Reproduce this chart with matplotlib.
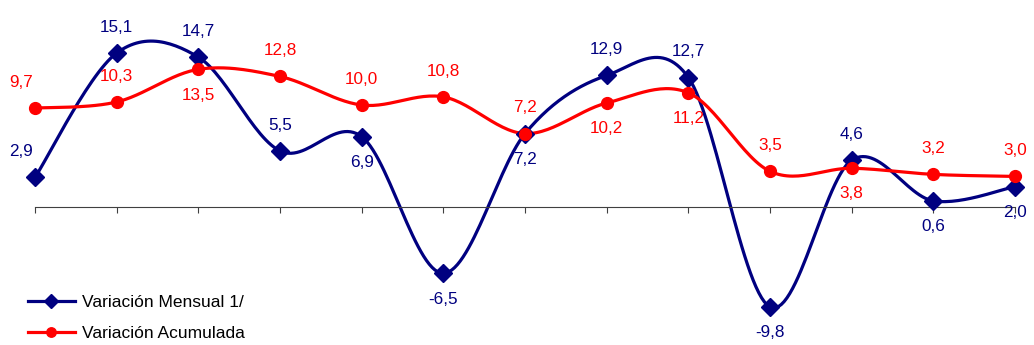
import numpy as np
from matplotlib import pyplot as plt

plt.rcParams['font.family'] = ['Liberation Sans', 'DejaVu Sans']

# monthly and cumulative variation, 13 periods
mensual = [2.9, 15.1, 14.7, 5.5, 6.9, -6.5, 7.2, 12.9, 12.7, -9.8, 4.6, 0.6, 2.0]
acumulada = [9.7, 10.3, 13.5, 12.8, 10.0, 10.8, 7.2, 10.2, 11.2, 3.5, 3.8, 3.2, 3.0]
names = ['Variación Mensual 1/', 'Variación Acumulada']

# label placement: 1 above, -1 below
pos_mensual = [1, 1, 1, 1, -1, -1, -1, 1, 1, -1, 1, -1, -1]
pos_acumulada = [1, 1, -1, 1, 1, 1, 1, -1, -1, 1, -1, 1, 1]

NAVY = '#000080'
RED = '#ff0000'


def smooth(ys, n=30):
    # Excel-like smoothing: bezier with catmull-rom control points
    xs = np.arange(len(ys), dtype=float)
    p = np.column_stack([xs, np.asarray(ys, float)])
    out = []
    for i in range(len(p) - 1):
        p0 = p[max(i - 1, 0)]
        p1 = p[i]
        p2 = p[i + 1]
        p3 = p[min(i + 2, len(p) - 1)]
        c1 = p1 + (p2 - p0) / 6
        c2 = p2 - (p3 - p1) / 6
        t = np.linspace(0, 1, n)[:, None]
        seg = ((1 - t) ** 3) * p1 + 3 * ((1 - t) ** 2) * t * c1 \
            + 3 * (1 - t) * t ** 2 * c2 + t ** 3 * p2
        out.append(seg if i == 0 else seg[1:])
    seg = np.vstack(out)
    return seg[:, 0], seg[:, 1]


fig = plt.figure(figsize=(10.34, 3.45), dpi=100)
ax = fig.add_axes([0, 0, 1, 1])

x = np.arange(len(mensual))
for vals, color, marker, ms, name, poss in [
        (mensual, NAVY, 'D', 9, names[0], pos_mensual),
        (acumulada, RED, 'o', 8.5, names[1], pos_acumulada)]:
    sx, sy = smooth(vals)
    ax.plot(sx, sy, color=color, lw=2.3, zorder=2)
    ax.plot(x, vals, linestyle='none', marker=marker, ms=ms, color=color,
            zorder=3)
    # legend proxy
    ax.plot([], [], color=color, lw=2.3, marker=marker, ms=ms * 0.8,
            label=name)
    for i, (v, p) in enumerate(zip(vals, poss)):
        dx = -10 if i == 0 else 0
        ax.annotate('{:.1f}'.format(v).replace('.', ','), (i, v),
                    xytext=(dx, 18.5 * p), textcoords='offset points',
                    ha='center', va='center', color=color, fontsize=12.3)

# x axis through zero with ticks between points
ax.set_xlim(-0.4286, 12.232)
ax.set_ylim(-13.53, 20.3)
for s in ['left', 'right', 'top']:
    ax.spines[s].set_visible(False)
ax.spines['bottom'].set_position(('data', 0))
ax.spines['bottom'].set_bounds(0, 12)
ax.spines['bottom'].set_color('#404040')
ax.set_xticks(x)
ax.set_xticklabels([])
ax.tick_params(axis='x', direction='out', length=4, color='#404040')
ax.set_yticks([])

ax.legend(loc='lower left', bbox_to_anchor=(0.027, 0.012), frameon=False,
          fontsize=12.5, handlelength=2.7, handletextpad=0.4,
          labelspacing=0.88, borderpad=0, borderaxespad=0)

fig.savefig('out.png', dpi=100)
